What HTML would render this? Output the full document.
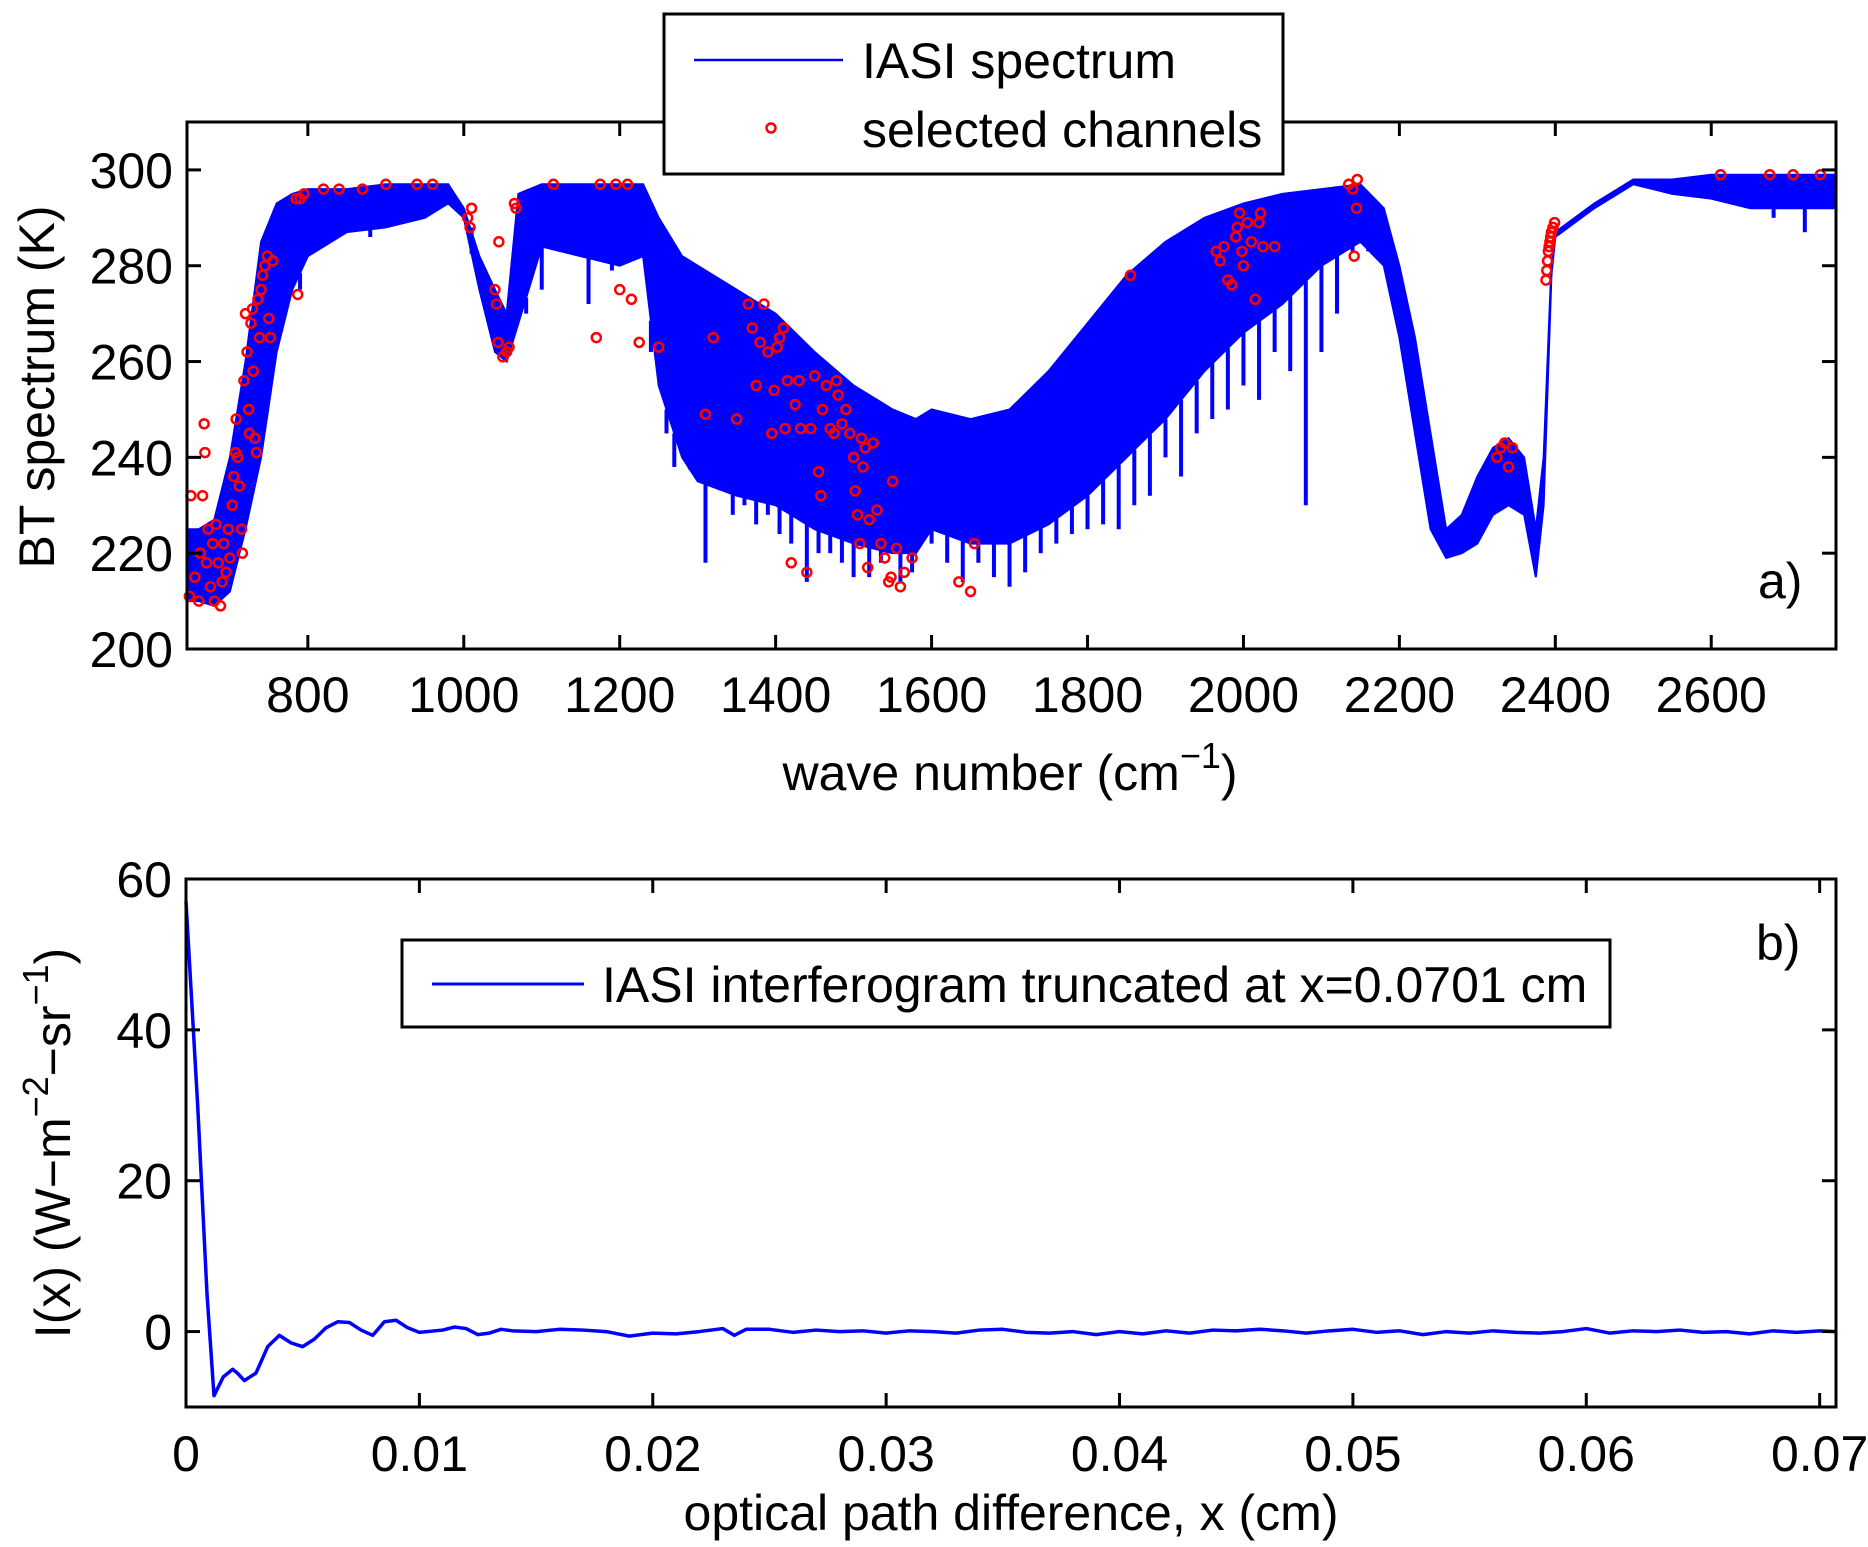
<!DOCTYPE html>
<html><head><meta charset="utf-8"><style>
html,body{margin:0;padding:0;background:#fff;}
svg{display:block;font-family:"Liberation Sans",Arial,sans-serif;}
</style></head><body>
<svg id="fig" width="1868" height="1547" viewBox="0 0 1868 1547">
<g id="pa"></g>
<g id="pb"></g>
</svg>
<script>
// ---- Panel a data ----
const envWn = [645,660,680,700,720,740,760,780,800,850,900,950,980,1000,1020,1040,1055,1070,1100,1150,1200,1230,1250,1280,1300,1350,1400,1450,1500,1550,1580,1600,1650,1700,1750,1800,1850,1900,1950,2000,2050,2100,2150,2180,2200,2220,2240,2260,2280,2300,2320,2340,2360,2375,2385,2395,2400,2450,2500,2550,2600,2650,2700,2760];
const envUpper = [225,225,227,240,260,285,293,295,296,296,297,297,297,292,282,275,270,295,297,297,297,297,290,282,280,275,270,262,255,250,248,250,248,250,258,268,278,285,290,293,295,296,297,292,280,265,245,225,228,236,242,244,240,225,240,280,287,293,298,298,299,299,299,299];
const envLower = [210,210,209,212,225,240,262,275,282,287,288,290,293,290,275,262,260,268,284,282,280,282,255,240,235,232,230,225,222,220,220,225,222,222,226,232,240,248,258,266,272,280,285,280,265,245,225,219,220,222,228,230,228,215,230,278,286,292,297,295,294,292,292,292];
const spikeWn = [790,830,880,920,1010,1080,1100,1130,1160,1190,1240,1260,1270,1290,1310,1330,1345,1360,1375,1390,1405,1420,1440,1455,1470,1485,1500,1520,1535,1560,1575,1600,1620,1640,1660,1680,1700,1720,1740,1760,1780,1800,1820,1840,1860,1880,1900,1920,1940,1960,1980,2000,2020,2040,2060,2080,2100,2120,2140,2160,2330,2680,2720];
const spikeK = [275,285,286,290,288,270,275,283,272,279,262,245,238,240,218,236,228,230,226,228,224,222,214,220,220,218,215,215,218,214,216,222,218,214,218,215,213,216,220,222,224,225,226,225,230,232,240,236,245,248,250,255,252,262,258,230,262,270,283,283,233,290,287];
const selWn = [648,650,655,660,662,665,667,668,670,672,675,678,680,682,685,688,690,692,695,698,700,703,705,707,708,710,712,715,716,718,720,722,724,725,727,729,730,732,734,736,738,740,742,745,748,750,752,755,785,790,795,787,820,840,870,900,940,960,1005,1008,1010,1040,1042,1044,1045,1050,1055,1058,1065,1067,1115,1170,1175,1195,1200,1210,1215,1225,1250,1310,1320,1350,1365,1370,1375,1380,1385,1390,1395,1398,1402,1405,1410,1412,1415,1420,1425,1430,1432,1440,1445,1450,1455,1458,1460,1465,1470,1475,1478,1480,1485,1490,1495,1500,1502,1505,1508,1510,1512,1515,1518,1520,1525,1530,1535,1540,1545,1548,1550,1555,1560,1565,1575,1635,1650,1655,1855,1965,1970,1975,1980,1985,1990,1992,1995,1998,2000,2005,2010,2015,2020,2022,2025,2040,2135,2140,2142,2145,2146,2325,2330,2335,2340,2345,2388,2389,2390,2391,2392,2393,2394,2395,2397,2399,2612,2675,2705,2740];
const selK = [211,232,215,210,220,232,247,241,218,225,213,222,210,226,218,209,214,222,216,225,219,230,236,241,248,240,234,225,220,256,270,262,250,245,268,271,258,244,241,273,265,275,278,280,282,269,265,281,294,294,295,274,296,296,296,297,297,297,290,288,292,275,272,264,285,261,262,263,293,292,297,265,297,297,275,297,273,264,263,249,265,248,272,267,255,264,272,262,245,254,263,265,267,246,256,218,251,256,246,216,246,257,237,232,250,255,246,245,256,253,247,250,245,240,233,228,222,244,238,242,217,227,243,229,222,219,214,215,235,221,213,216,219,214,212,222,278,283,281,284,277,276,286,288,291,283,280,289,285,273,289,291,284,284,297,296,282,292,298,240,242,243,238,242,277,279,281,283,284,285,286,287,288,289,299,299,299,299];
const xTicksA = [800,1000,1200,1400,1600,1800,2000,2200,2400,2600];
const yTicksA = [200,220,240,260,280,300];
// ---- Panel b data ----
const opdX = [0,0.0005,0.0009,0.0012,0.0016,0.002,0.0022,0.0025,0.003,0.0035,0.004,0.0045,0.005,0.0055,0.006,0.0065,0.007,0.0075,0.008,0.0085,0.009,0.0095,0.01,0.011,0.0115,0.012,0.0125,0.013,0.0135,0.014,0.015,0.016,0.017,0.018,0.019,0.02,0.021,0.022,0.023,0.0235,0.024,0.025,0.026,0.027,0.028,0.029,0.03,0.031,0.032,0.033,0.034,0.035,0.036,0.037,0.038,0.039,0.04,0.041,0.042,0.043,0.044,0.045,0.046,0.047,0.048,0.049,0.05,0.051,0.052,0.053,0.054,0.055,0.056,0.057,0.058,0.059,0.06,0.061,0.062,0.063,0.064,0.065,0.066,0.067,0.068,0.069,0.07,0.0707];
const opdI = [57,30,5,-8.5,-6,-5,-5.5,-6.5,-5.5,-2,-0.5,-1.5,-2,-1,0.5,1.3,1.2,0.2,-0.5,1.3,1.5,0.5,-0.1,0.2,0.6,0.4,-0.4,-0.2,0.3,0.1,0,0.3,0.2,0,-0.6,-0.2,-0.3,0,0.4,-0.5,0.3,0.3,-0.1,0.2,0,0.1,-0.2,0.1,0,-0.2,0.2,0.3,-0.1,-0.2,0,-0.4,0,-0.3,0.1,-0.2,0.2,0.1,0.3,0.1,-0.2,0.1,0.3,-0.1,0.1,-0.4,0,-0.2,0.1,-0.1,-0.2,0,0.4,-0.2,0.1,0,0.2,-0.1,0,-0.3,0.1,-0.1,0.1,0];
const xTicksB = [0,0.01,0.02,0.03,0.04,0.05,0.06,0.07];
const xTickLabelsB = ["0","0.01","0.02","0.03","0.04","0.05","0.06","0.07"];
const yTicksB = [0,20,40,60];

const NS="http://www.w3.org/2000/svg";
function mk(tag,attrs,parent){const e=document.createElementNS(NS,tag);for(const k in attrs)e.setAttribute(k,attrs[k]);parent.appendChild(e);return e;}
const FS=50;

// Panel a
const pa=document.getElementById('pa');
const A={l:187,r:1836,t:122,b:649,x0:645,x1:2760,y0:200,y1:310};
const ax=v=>A.l+(v-A.x0)/(A.x1-A.x0)*(A.r-A.l);
const ay=v=>A.b-(v-A.y0)/(A.y1-A.y0)*(A.b-A.t);
let pts=envWn.map((w,i)=>ax(w)+','+ay(envUpper[i]));
for(let i=envWn.length-1;i>=0;i--)pts.push(ax(envWn[i])+','+ay(envLower[i]));
const band=mk('polygon',{points:pts.join(' '),fill:'#0000ff',stroke:'#0000ff','stroke-width':2},pa);


function envAt(w){for(let i=0;i<envWn.length-1;i++){if(w>=envWn[i]&&w<=envWn[i+1]){const f=(w-envWn[i])/(envWn[i+1]-envWn[i]);return envLower[i]+f*(envLower[i+1]-envLower[i]);}}return envLower[envLower.length-1];}
spikeWn.forEach((w,i)=>{
 const s=mk('line',{x1:ax(w),x2:ax(w),y1:ay(envAt(w)),y2:ay(spikeK[i]),stroke:'#0000ff','stroke-width':4},pa);
 
 
});
selWn.forEach((w,i)=>{
 const c=mk('circle',{cx:ax(w),cy:ay(selK[i]),r:4.5,fill:'none',stroke:'#ff0000','stroke-width':2.5},pa);
 
 
});
const fa=mk('rect',{x:A.l,y:A.t,width:A.r-A.l,height:A.b-A.t,fill:'none',stroke:'#000','stroke-width':3},pa);


xTicksA.forEach(v=>{
 const x=ax(v);
 mk('line',{x1:x,x2:x,y1:A.b,y2:A.b-14,stroke:'#000','stroke-width':3},pa);
 mk('line',{x1:x,x2:x,y1:A.t,y2:A.t+14,stroke:'#000','stroke-width':3},pa);
 const t=mk('text',{x:x,y:A.b+63,'font-size':FS,'text-anchor':'middle'},pa);t.textContent=v;
 
 
});
yTicksA.forEach(v=>{
 const y=ay(v);
 mk('line',{x1:A.l,x2:A.l+14,y1:y,y2:y,stroke:'#000','stroke-width':3},pa);
 mk('line',{x1:A.r,x2:A.r-14,y1:y,y2:y,stroke:'#000','stroke-width':3},pa);
 const t=mk('text',{x:A.l-14,y:y+18,'font-size':FS,'text-anchor':'end'},pa);t.textContent=v;
 
 
});
</script>
<script>
(function(){
const pa=document.getElementById('pa');
pa.insertAdjacentHTML('beforeend',`
<text x="0" y="0" font-size="50" text-anchor="middle" transform="translate(54,387) rotate(-90)">BT spectrum (K)</text>
<text x="1010" y="790" font-size="50" text-anchor="middle">wave number (cm<tspan dy="-22" font-size="36">−1</tspan><tspan dy="22">)</tspan></text>
<text x="1758" y="598" font-size="50">a)</text>
<g>
<rect x="664" y="14" width="619" height="160" fill="#fff" stroke="#000" stroke-width="3"/>
<line x1="694" x2="843" y1="60" y2="60" stroke="#0000ff" stroke-width="2.5"/>
<text x="862" y="78" font-size="50">IASI spectrum</text>
<circle cx="771" cy="128" r="4.5" fill="none" stroke="#ff0000" stroke-width="2.5"/>
<text x="862" y="147" font-size="50">selected channels</text>
</g>`);
})();
// Panel b
const pb=document.getElementById('pb');
const B={l:186,r:1836,t:879,b:1407,x0:0,x1:0.0707,y0:-10,y1:60};
const bx=v=>B.l+(v-B.x0)/(B.x1-B.x0)*(B.r-B.l);
const by=v=>B.b-(v-B.y0)/(B.y1-B.y0)*(B.b-B.t);
const ln=mk('polyline',{points:opdX.map((x,i)=>bx(x)+','+by(opdI[i])).join(' '),fill:'none',stroke:'#0000ff','stroke-width':3.5,'stroke-linejoin':'round'},pb);


const fb=mk('rect',{x:B.l,y:B.t,width:B.r-B.l,height:B.b-B.t,fill:'none',stroke:'#000','stroke-width':3},pb);


xTicksB.forEach((v,i)=>{
 const x=bx(v);
 mk('line',{x1:x,x2:x,y1:B.b,y2:B.b-14,stroke:'#000','stroke-width':3},pb);
 mk('line',{x1:x,x2:x,y1:B.t,y2:B.t+14,stroke:'#000','stroke-width':3},pb);
 const t=mk('text',{x:x,y:B.b+64,'font-size':FS,'text-anchor':'middle'},pb);t.textContent=xTickLabelsB[i];
 
 
});
yTicksB.forEach(v=>{
 const y=by(v);
 mk('line',{x1:B.l,x2:B.l+14,y1:y,y2:y,stroke:'#000','stroke-width':3},pb);
 mk('line',{x1:B.r,x2:B.r-14,y1:y,y2:y,stroke:'#000','stroke-width':3},pb);
 const t=mk('text',{x:B.l-14,y:y+18,'font-size':FS,'text-anchor':'end'},pb);t.textContent=v;
 
 
});
pb.insertAdjacentHTML('beforeend',`
<text x="0" y="0" font-size="50" text-anchor="middle" transform="translate(70,1143) rotate(-90)">I(x) (W−m<tspan dy="-22" font-size="36">−2</tspan><tspan dy="22">−sr</tspan><tspan dy="-22" font-size="36">−1</tspan><tspan dy="22">)</tspan></text>
<text x="1011" y="1530" font-size="50" text-anchor="middle">optical path difference, x (cm)</text>
<text x="1756" y="960" font-size="50">b)</text>
<g>
<rect x="402" y="940" width="1208" height="87" fill="#fff" stroke="#000" stroke-width="3"/>
<line x1="432" x2="584" y1="984" y2="984" stroke="#0000ff" stroke-width="3"/>
<text x="602" y="1002" font-size="50">IASI interferogram truncated at x=0.0701 cm</text>
</g>`);
</script>
</body></html>
